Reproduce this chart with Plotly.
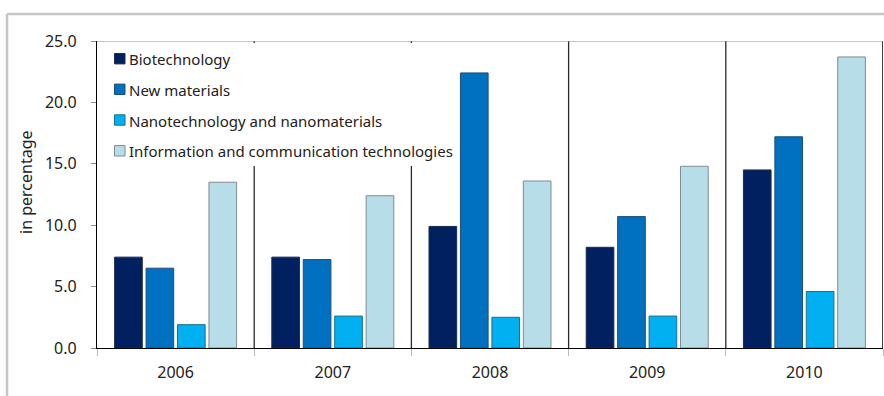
import plotly.graph_objects as go

# Share of patent applications by technology field, 2006-2010
years = ["2006", "2007", "2008", "2009", "2010"]
biotechnology = [7.4, 7.4, 9.9, 8.2, 14.5]
new_materials = [6.5, 7.2, 22.4, 10.7, 17.2]
nanotechnology = [1.9, 2.6, 2.5, 2.6, 4.6]
ict = [13.5, 12.4, 13.6, 14.8, 23.7]

series_names = [
    "Biotechnology",
    "New materials",
    "Nanotechnology and nanomaterials",
    "Information and communication technologies",
]
series_values = [biotechnology, new_materials, nanotechnology, ict]
fills = ["#002060", "#0070c0", "#00b0f0", "#b7dee8"]
edges = ["#1c2b4f", "#1d4e7c", "#1a6f90", "#7d8c94"]

FONT = "Noto Sans"
W, H = 884, 396
ML, MR, MT, MB = 97, 1, 41, 48
PW, PH = W - ML - MR, H - MT - MB


def px(xp):
    """pixel column -> paper x"""
    return (xp - ML) / PW


def py(yp):
    """pixel row -> paper y"""
    return (H - MB - yp) / PH


fig = go.Figure()
for name, vals, fill, edge in zip(series_names, series_values, fills, edges):
    fig.add_trace(go.Bar(
        x=years, y=vals, name=name,
        marker=dict(color=fill, line=dict(color=edge, width=1)),
    ))

shapes = []
annotations = []
# vertical separators between year groups, plus the right-hand frame
for k in range(len(years)):
    b = k + 0.5
    last = k == len(years) - 1
    shapes.append(dict(type="line", xref="x", yref="y", x0=b, x1=b, y0=0, y1=25,
                       line=dict(color="#111111" if last else "#2a2a2a",
                                 width=1.6 if last else 1.3),
                       layer="below"))
# top edge of the plotting area
shapes.append(dict(type="line", xref="x", yref="y", x0=-0.5, x1=4.5, y0=25, y1=25,
                   line=dict(color="#8c8c8c", width=1), layer="below"))
# light outer frame around the figure
shapes.append(dict(type="line", xref="paper", yref="paper", x0=px(7), x1=px(900),
                   y0=py(14), y1=py(14), line=dict(color="#c6c6c6", width=2.5)))
shapes.append(dict(type="line", xref="paper", yref="paper", x0=px(7), x1=px(7),
                   y0=py(14), y1=py(420), line=dict(color="#c6c6c6", width=2.5)))

# legend box (white panel over the separators) with swatches and labels
shapes.append(dict(type="rect", xref="paper", yref="paper",
                   x0=px(98), x1=px(456), y0=py(166), y1=py(43),
                   fillcolor="white", line=dict(width=0), layer="above"))
row_y = [58.7, 89.3, 120.0, 150.8]
for name, fill, edge, yc in zip(series_names, fills, edges, row_y):
    shapes.append(dict(type="rect", xref="paper", yref="paper",
                       x0=px(114.5), x1=px(125), y0=py(yc + 5.2), y1=py(yc - 5.2),
                       fillcolor=fill, line=dict(color=edge, width=1), layer="above"))
    annotations.append(dict(text=name, xref="paper", yref="paper",
                            x=px(127), y=py(yc + 0.5), xanchor="left", yanchor="middle",
                            showarrow=False,
                            font=dict(family=FONT, size=15, color="#222222")))

# y axis title
annotations.append(dict(text="in percentage", xref="paper", yref="paper",
                        x=px(26), y=py(182), textangle=-90, showarrow=False,
                        xanchor="center", yanchor="middle",
                        font=dict(family=FONT, size=16, color="#222222")))

fig.update_layout(
    width=W, height=H,
    margin=dict(l=ML, r=MR, t=MT, b=MB),
    paper_bgcolor="white", plot_bgcolor="white",
    font=dict(family=FONT, size=16, color="#222222"),
    barmode="group", bargap=0.2, bargroupgap=0.12,
    shapes=shapes, annotations=annotations,
    showlegend=False,
    xaxis=dict(
        type="category", showline=True, linecolor="#000000", linewidth=1.2,
        ticks="outside", tickson="boundaries", ticklen=7, tickcolor="#bdbdbd",
        ticklabelstandoff=10,
        showgrid=False, tickfont=dict(size=16), range=[-0.5, 4.5],
    ),
    yaxis=dict(
        range=[0, 25], dtick=5, tickformat=".1f",
        showline=True, linecolor="#000000", linewidth=1.2,
        ticks="outside", ticklen=5, tickcolor="#8c8c8c",
        ticklabelstandoff=11,
        showgrid=False, zeroline=False, tickfont=dict(size=16),
    ),
)

fig.write_html("out.html")
